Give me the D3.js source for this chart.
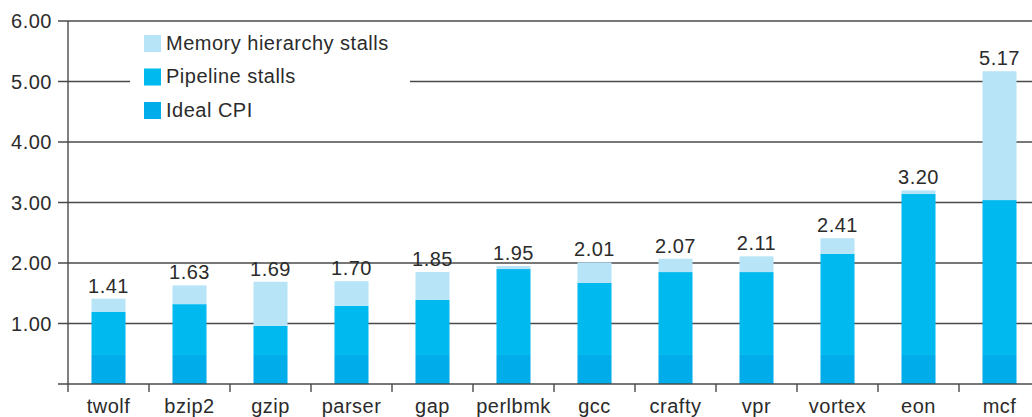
<!DOCTYPE html>
<html>
<head>
<meta charset="utf-8">
<script src="https://cdn.jsdelivr.net/npm/d3@7"></script>
<style>
  html, body { margin: 0; padding: 0; background: #fff; }
  svg { display: block; }
  text { font-family: "Liberation Sans", Arial, Helvetica, sans-serif; fill: #2b2b2b; letter-spacing: 0.5px; }
</style>
</head>
<body>
<svg id="chart" width="1032" height="417"></svg>
<script>
// Benchmarks and CPI breakdown
const categories = ["twolf", "bzip2", "gzip", "parser", "gap", "perlbmk", "gcc", "crafty", "vpr", "vortex", "eon", "mcf"];
const idealCPI      = [0.48, 0.48, 0.48, 0.48, 0.48, 0.48, 0.48, 0.48, 0.48, 0.48, 0.48, 0.48];
const pipelineStall = [0.71, 0.84, 0.48, 0.81, 0.91, 1.42, 1.19, 1.37, 1.37, 1.67, 2.66, 2.56];
const totalCPI      = [1.41, 1.63, 1.69, 1.70, 1.85, 1.95, 2.01, 2.07, 2.11, 2.41, 3.20, 5.17];
const memoryStall   = totalCPI.map((t, i) => +(t - idealCPI[i] - pipelineStall[i]).toFixed(2));
const yTicks = [1, 2, 3, 4, 5, 6];
const seriesNames = ["Ideal CPI", "Pipeline stalls", "Memory hierarchy stalls"];
const colors = ["#00acea", "#00b9ef", "#b8e4f8"];

const svg = d3.select("#chart");
const plotLeft = 68, plotRight = 1040, plotTop = 21, plotBottom = 384;

const y = d3.scaleLinear().domain([0, 6]).range([plotBottom, plotTop]);
const xBand = d3.scaleBand().domain(categories).range([plotLeft, plotRight]).paddingInner(0.58).paddingOuter(0.29);
const xSlot = d3.scaleBand().domain(categories).range([plotLeft, plotRight]).padding(0);

const ink = "#4a4a4a";

// horizontal gridlines
svg.append("g").selectAll("line").data(yTicks).join("line")
  .attr("x1", 58).attr("x2", 1032)
  .attr("y1", d => y(d)).attr("y2", d => y(d))
  .attr("stroke", ink).attr("stroke-width", 1.4);

// y tick labels
svg.append("g").selectAll("text").data(yTicks).join("text")
  .attr("x", 52).attr("y", d => y(d)).attr("dy", "0.36em")
  .attr("text-anchor", "end").attr("font-size", 20)
  .text(d => d.toFixed(2));

// stacked bars
const rows = categories.map((c, i) => ({ cat: c, ideal: idealCPI[i], pipe: pipelineStall[i], mem: memoryStall[i], total: totalCPI[i] }));
const stack = d3.stack().keys(["ideal", "pipe", "mem"]);
const layers = stack(rows);

svg.append("g").selectAll("g").data(layers).join("g")
  .attr("fill", (d, i) => colors[i])
  .selectAll("rect").data(d => d).join("rect")
  .attr("x", d => xBand(d.data.cat))
  .attr("width", xBand.bandwidth())
  .attr("y", d => y(d[1]))
  .attr("height", d => y(d[0]) - y(d[1]));

// total labels
svg.append("g").selectAll("text").data(rows).join("text")
  .attr("x", d => xBand(d.cat) + xBand.bandwidth() / 2)
  .attr("y", d => y(d.total) - 6)
  .attr("text-anchor", "middle").attr("font-size", 20)
  .text(d => d.total.toFixed(2));

// axes lines
svg.append("line").attr("x1", plotLeft).attr("x2", plotLeft).attr("y1", plotTop).attr("y2", plotBottom + 8)
  .attr("stroke", ink).attr("stroke-width", 1.4);
svg.append("line").attr("x1", 58).attr("x2", 1032).attr("y1", plotBottom).attr("y2", plotBottom)
  .attr("stroke", ink).attr("stroke-width", 1.4);

// category boundary ticks
svg.append("g").selectAll("line").data(categories.slice(1)).join("line")
  .attr("x1", d => xSlot(d)).attr("x2", d => xSlot(d))
  .attr("y1", plotBottom).attr("y2", plotBottom + 8)
  .attr("stroke", ink).attr("stroke-width", 1.4);

// category labels
svg.append("g").selectAll("text").data(categories).join("text")
  .attr("x", d => xSlot(d) + xSlot.bandwidth() / 2)
  .attr("y", 413)
  .attr("text-anchor", "middle").attr("font-size", 20)
  .text(d => d);

// legend
const legend = svg.append("g");
legend.append("rect").attr("x", 130).attr("y", 28).attr("width", 280).attr("height", 96).attr("fill", "#fff");
const legendItems = [2, 1, 0];
legendItems.forEach((s, i) => {
  const ly = 35 + i * 33.5;
  legend.append("rect").attr("x", 144).attr("y", ly).attr("width", 17).attr("height", 17).attr("fill", colors[s]);
  legend.append("text").attr("x", 166).attr("y", ly + 14.5).attr("font-size", 20).text(seriesNames[s]);
});
</script>
</body>
</html>
